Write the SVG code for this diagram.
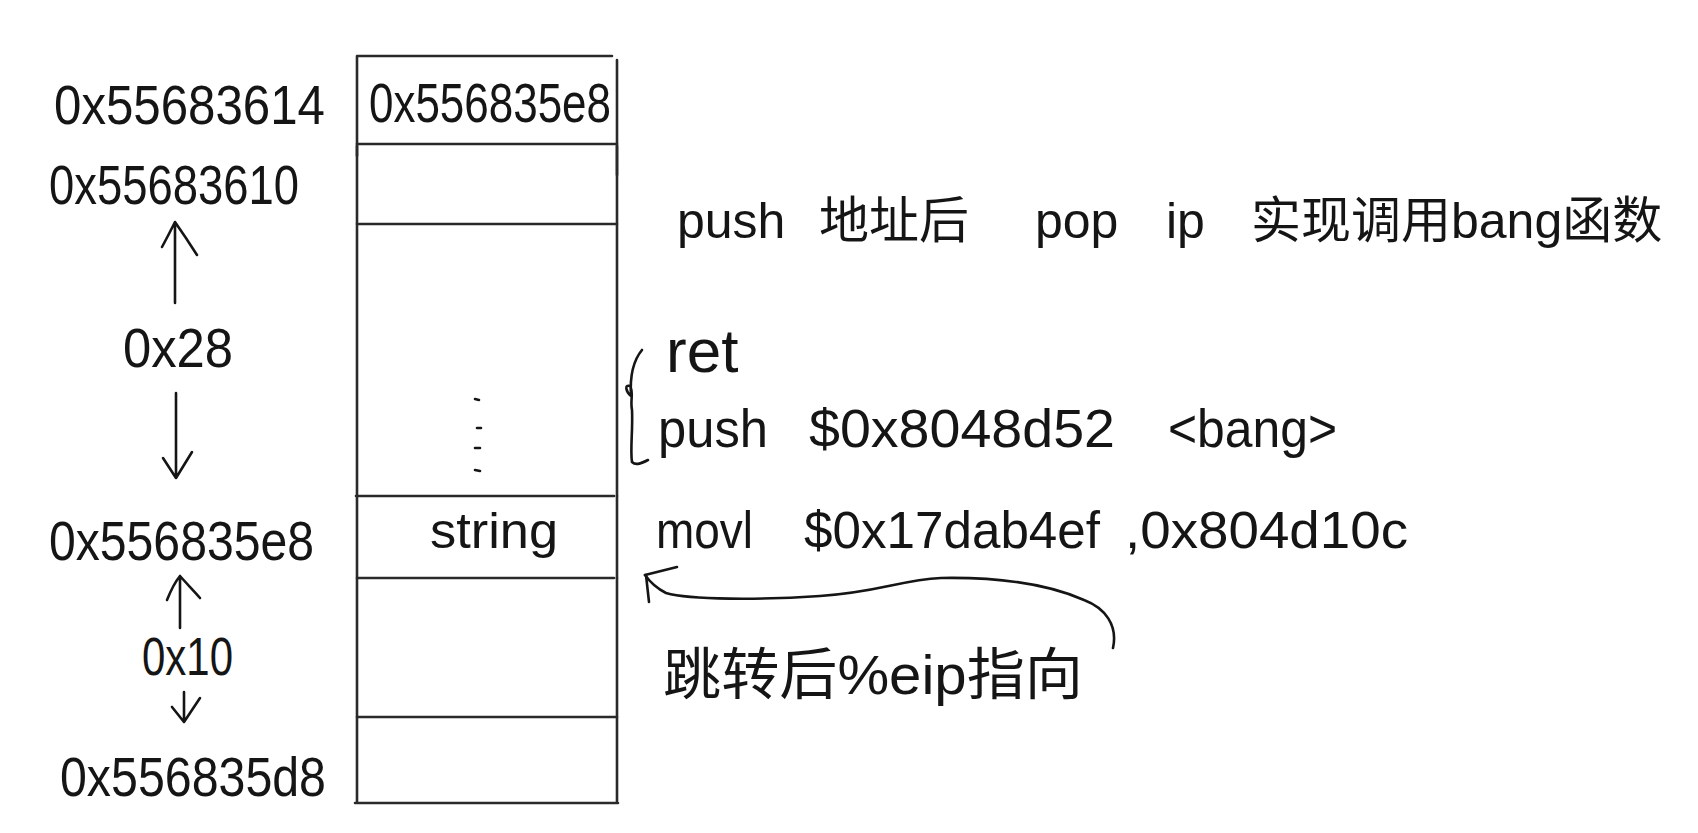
<svg xmlns="http://www.w3.org/2000/svg" width="1698" height="833" viewBox="0 0 1698 833">
<style>
.t{font-family:"Liberation Sans","Noto Sans CJK SC",sans-serif;fill:#151515;}
.ln{stroke:#2a2a2a;stroke-width:2.6;fill:none;stroke-linecap:round;}
.ink{stroke:#151515;stroke-width:2.6;fill:none;stroke-linecap:round;stroke-linejoin:round;}
</style>
<rect width="1698" height="833" fill="#ffffff"/>

<g id="stack">
  <g id="cell-ret">
    <path class="ln" d="M357,56 L612,56 M617,60 L617,144 M357,56 L357,144"/>
    <text class="t" x="369" y="122" font-size="56" textLength="242" lengthAdjust="spacingAndGlyphs">0x556835e8</text>
  </g>
  <g id="cell-2">
    <path class="ln" d="M357,144 L617,144 M357,144 L357,224 M617,144 L617,224"/>
    <path class="ln" stroke-width="4.5" d="M617,146 L617,175 M357,146 L357,156"/>
  </g>
  <g id="cell-buffer">
    <path class="ln" d="M359,224 L616,224 M357,224 L357,496 M617,224 L617,496"/>
    <path class="ink" stroke-width="3" d="M475,399 L479,400 M477,428 L481,428 M475,448 L480,448 M475,470 L480,471"/>
  </g>
  <g id="cell-string">
    <path class="ln" d="M356,496 L614,496 M357,496 L357,578 M617,496 L617,578"/>
    <text class="t" x="430" y="548" font-size="50" textLength="128" lengthAdjust="spacingAndGlyphs">string</text>
  </g>
  <g id="cell-5">
    <path class="ln" d="M357,578 L614,578 M357,578 L357,717 M617,578 L617,717"/>
  </g>
  <g id="cell-6">
    <path class="ln" d="M357,717 L617,717 M357,717 L357,803 M617,717 L617,803 M355,803 L618,803"/>
  </g>
</g>

<g id="addr-labels">
  <g id="addr-614"><text class="t" x="54" y="124" font-size="56" textLength="271" lengthAdjust="spacingAndGlyphs">0x55683614</text></g>
  <g id="addr-610"><text class="t" x="49" y="204" font-size="56" textLength="250" lengthAdjust="spacingAndGlyphs">0x55683610</text></g>
  <g id="off-28"><text class="t" x="123" y="367" font-size="56" textLength="110" lengthAdjust="spacingAndGlyphs">0x28</text></g>
  <g id="addr-5e8"><text class="t" x="49" y="560" font-size="56" textLength="265" lengthAdjust="spacingAndGlyphs">0x556835e8</text></g>
  <g id="off-10"><text class="t" x="142" y="675" font-size="54" textLength="91" lengthAdjust="spacingAndGlyphs">0x10</text></g>
  <g id="addr-5d8"><text class="t" x="60" y="796" font-size="56" textLength="266" lengthAdjust="spacingAndGlyphs">0x556835d8</text></g>
</g>

<g id="notes">
  <g id="note-title">
    <text class="t" y="238" font-size="50"><tspan x="677">push</tspan> <tspan x="819">地址后</tspan> <tspan x="1035">pop</tspan> <tspan x="1166">ip</tspan> <tspan x="1251">实现调用bang函数</tspan></text>
  </g>
  <g id="code-ret">
    <text class="t" x="666" y="372" font-size="62">ret</text>
  </g>
  <g id="code-push">
    <text class="t" y="447" font-size="54"><tspan x="658" textLength="110" lengthAdjust="spacingAndGlyphs">push</tspan> <tspan x="809" textLength="306" lengthAdjust="spacingAndGlyphs">$0x8048d52</tspan> <tspan x="1168" textLength="169" lengthAdjust="spacingAndGlyphs">&lt;bang&gt;</tspan></text>
  </g>
  <g id="code-movl">
    <text class="t" y="548" font-size="52"><tspan x="656" textLength="97" lengthAdjust="spacingAndGlyphs">movl</tspan> <tspan x="804" textLength="296" lengthAdjust="spacingAndGlyphs">$0x17dab4ef</tspan> <tspan x="1125" textLength="283" lengthAdjust="spacingAndGlyphs">,0x804d10c</tspan></text>
  </g>
  <g id="note-eip">
    <text class="t" x="663" y="694" font-size="56" textLength="420" lengthAdjust="spacingAndGlyphs">跳转后%eip指向</text>
  </g>
  <g id="brace">
    <path class="ink" d="M642,350 C632,362 630,380 631,396 C626,392 624,384 630,386 C634,392 630,400 632,410 C633,430 630,450 632,462 C636,466 642,463 648,460"/>
  </g>
</g>

<g id="connectors">
  <path class="ink" d="M175,303 L175,222 M162,247 C168,236 172,228 175,222 C182,232 190,244 197,255"/>
  <path class="ink" d="M176,393 L176,478 M163,458 L176,478 L192,452"/>
  <path class="ink" d="M180,628 L180,576 M167,600 C171,590 175,582 180,576 C187,584 195,592 200,598"/>
  <path class="ink" d="M184,692 L184,722 M172,707 L184,722 L200,698"/>
  <path class="ink" stroke-width="3" d="M1113,648 C1118,625 1105,608 1084,600 C1050,585 1000,577 941,578 C900,580 880,592 820,596 C760,600 690,600 666,593 C656,588 650,582 645,575"/>
  <path class="ink" stroke-width="3.5" d="M677,567 L645,575"/>
  <path class="ink" stroke-width="6" d="M646,575 L649,602"/>
</g>
</svg>
